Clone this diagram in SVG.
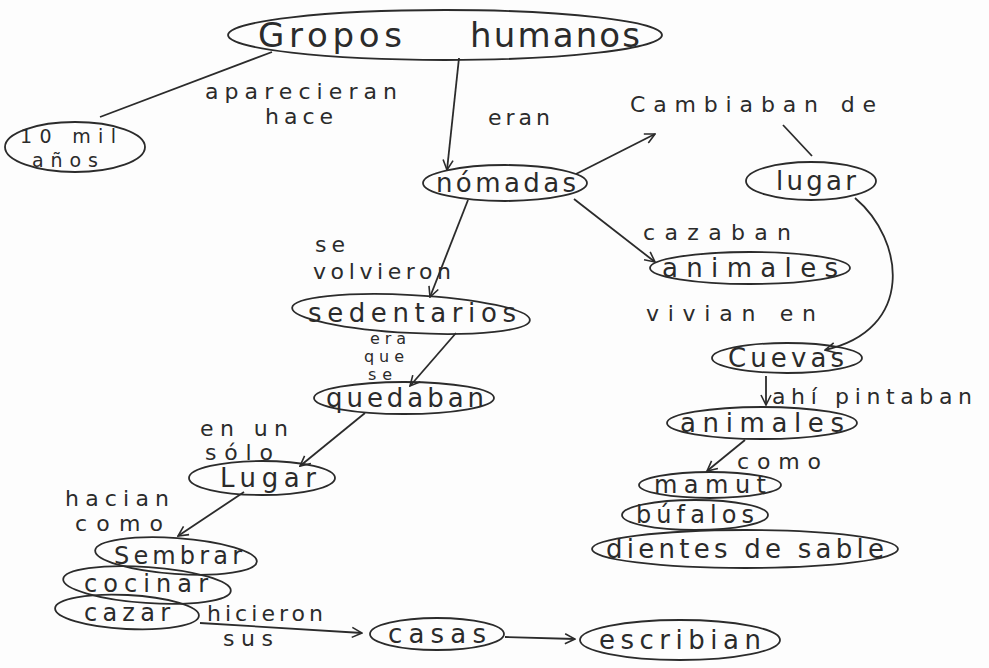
<svg xmlns="http://www.w3.org/2000/svg" width="989" height="668" viewBox="0 0 989 668">
<style>
.n{fill:none;stroke:#2b2b2b;stroke-width:1.8}
.c{fill:none;stroke:#2b2b2b;stroke-width:1.8}
text{font-family:"DejaVu Sans","Liberation Sans",sans-serif;fill:#2b2b2b}
.t{font-size:26px}
.u{font-size:24px}
.l{font-size:22px}
.s{font-size:16px}
</style>
<defs>
<marker id="a" viewBox="0 0 12 12" refX="11" refY="6" markerWidth="12" markerHeight="12" markerUnits="userSpaceOnUse" orient="auto">
<path d="M1,1 L11,6 L1,11" fill="none" stroke="#2b2b2b" stroke-width="1.6"/>
</marker>
</defs>
<rect width="989" height="668" fill="#fdfdfd"/>
<g id="connectors">
<line class="c" x1="272" y1="52" x2="100" y2="117"/>
<line class="c" x1="459" y1="58" x2="447" y2="170" marker-end="url(#a)"/>
<line class="c" x1="576" y1="174" x2="655" y2="134" marker-end="url(#a)"/>
<line class="c" x1="783" y1="125" x2="812" y2="156"/>
<line class="c" x1="574" y1="199" x2="655" y2="262" marker-end="url(#a)"/>
<path class="c" d="M855,198 C905,240 915,330 825,350" marker-end="url(#a)"/>
<line class="c" x1="766" y1="376" x2="766" y2="405" marker-end="url(#a)"/>
<line class="c" x1="745" y1="440" x2="707" y2="471" marker-end="url(#a)"/>
<line class="c" x1="468" y1="200" x2="430" y2="297" marker-end="url(#a)"/>
<line class="c" x1="456" y1="333" x2="410" y2="386" marker-end="url(#a)"/>
<line class="c" x1="365" y1="413" x2="300" y2="466" marker-end="url(#a)"/>
<line class="c" x1="244" y1="492" x2="178" y2="536" marker-end="url(#a)"/>
<line class="c" x1="200" y1="623" x2="362" y2="633" marker-end="url(#a)"/>
<line class="c" x1="505" y1="637" x2="575" y2="639" marker-end="url(#a)"/>
</g>
<g id="labels">
<text class="l" x="205" y="99" textLength="192" lengthAdjust="spacing">aparecieran</text>
<text class="l" x="265" y="124" textLength="68" lengthAdjust="spacing">hace</text>
<text class="l" x="488" y="125" textLength="62" lengthAdjust="spacing">eran</text>
<text class="l" x="630" y="112" textLength="246" lengthAdjust="spacing">Cambiaban de</text>
<text class="l" x="643" y="240" textLength="148" lengthAdjust="spacing">cazaban</text>
<text class="l" x="646" y="321" textLength="170" lengthAdjust="spacing">vivian en</text>
<text class="l" x="772" y="404" textLength="200" lengthAdjust="spacing">ahí pintaban</text>
<text class="l" x="737" y="469" textLength="84" lengthAdjust="spacing">como</text>
<text class="l" x="315" y="252" textLength="30" lengthAdjust="spacing">se</text>
<text class="l" x="313" y="279" textLength="138" lengthAdjust="spacing">volvieron</text>
<text class="s" x="370" y="344" textLength="36" lengthAdjust="spacing">era</text>
<text class="s" x="364" y="362" textLength="40" lengthAdjust="spacing">que</text>
<text class="s" x="368" y="380" textLength="24" lengthAdjust="spacing">se</text>
<text class="l" x="200" y="436" textLength="88" lengthAdjust="spacing">en un</text>
<text class="l" x="205" y="460" textLength="68" lengthAdjust="spacing">sólo</text>
<text class="l" x="65" y="506" textLength="104" lengthAdjust="spacing">hacian</text>
<text class="l" x="75" y="531" textLength="88" lengthAdjust="spacing">como</text>
<text class="l" x="207" y="621" textLength="116" lengthAdjust="spacing">hicieron</text>
<text class="l" x="223" y="646" textLength="50" lengthAdjust="spacing">sus</text>
</g>
<g id="n-gropos">
<ellipse class="n" cx="445" cy="35" rx="217" ry="25"/>
<text x="258" y="47" font-size="34" textLength="144" lengthAdjust="spacing">Gropos</text>
<text x="470" y="47" font-size="34" textLength="170" lengthAdjust="spacing">humanos</text>
</g>
<g id="n-10mil">
<ellipse class="n" cx="75" cy="147" rx="70" ry="25"/>
<text x="20" y="143" font-size="19" textLength="96" lengthAdjust="spacing">10 mil</text>
<text x="32" y="167" font-size="19" textLength="66" lengthAdjust="spacing">años</text>
</g>
<g id="n-nomadas">
<ellipse class="n" cx="505" cy="183" rx="82" ry="18"/>
<text class="t" x="436" y="192" textLength="140" lengthAdjust="spacing">nómadas</text>
</g>
<g id="n-lugar">
<ellipse class="n" cx="811" cy="181" rx="65" ry="19"/>
<text class="t" x="776" y="190" textLength="80" lengthAdjust="spacing">lugar</text>
</g>
<g id="n-animales1">
<ellipse class="n" cx="750" cy="268" rx="100" ry="16"/>
<text class="t" x="662" y="277" textLength="176" lengthAdjust="spacing">animales</text>
</g>
<g id="n-cuevas">
<ellipse class="n" cx="787" cy="358" rx="75" ry="15"/>
<text class="t" x="728" y="367" textLength="116" lengthAdjust="spacing">Cuevas</text>
</g>
<g id="n-animales2">
<ellipse class="n" cx="762" cy="423" rx="95" ry="16"/>
<text class="t" x="680" y="432" textLength="164" lengthAdjust="spacing">animales</text>
</g>
<g id="n-mamut">
<ellipse class="n" cx="710" cy="485" rx="71" ry="13"/>
<text class="u" x="654" y="493" textLength="112" lengthAdjust="spacing">mamut</text>
</g>
<g id="n-bufalos">
<ellipse class="n" cx="695" cy="515" rx="73" ry="15"/>
<text class="u" x="636" y="523" textLength="118" lengthAdjust="spacing">búfalos</text>
</g>
<g id="n-dientes">
<ellipse class="n" cx="745" cy="549" rx="153" ry="19"/>
<text class="t" x="606" y="558" textLength="278" lengthAdjust="spacing">dientes de sable</text>
</g>
<g id="n-sedentarios">
<ellipse class="n" cx="411" cy="314" rx="119" ry="19" transform="rotate(3 411 314)"/>
<text class="t" x="308" y="322" textLength="208" lengthAdjust="spacing">sedentarios</text>
</g>
<g id="n-quedaban">
<ellipse class="n" cx="404" cy="398" rx="90" ry="16"/>
<text class="t" x="326" y="407" textLength="158" lengthAdjust="spacing">quedaban</text>
</g>
<g id="n-lugar2">
<ellipse class="n" cx="262" cy="478" rx="73" ry="17"/>
<text class="t" x="220" y="487" textLength="96" lengthAdjust="spacing">Lugar</text>
</g>
<g id="n-sembrar">
<ellipse class="n" cx="176" cy="556" rx="81" ry="18" transform="rotate(4 176 556)"/>
<text class="u" x="114" y="564" textLength="128" lengthAdjust="spacing">Sembrar</text>
</g>
<g id="n-cocinar">
<ellipse class="n" cx="147" cy="585" rx="84" ry="18" transform="rotate(4 147 585)"/>
<text class="u" x="84" y="592" textLength="124" lengthAdjust="spacing">cocinar</text>
</g>
<g id="n-cazar">
<ellipse class="n" cx="127" cy="612" rx="72" ry="17" transform="rotate(3 127 612)"/>
<text class="u" x="84" y="621" textLength="86" lengthAdjust="spacing">cazar</text>
</g>
<g id="n-casas">
<ellipse class="n" cx="437" cy="634" rx="67" ry="16"/>
<text class="t" x="388" y="643" textLength="98" lengthAdjust="spacing">casas</text>
</g>
<g id="n-escribian">
<ellipse class="n" cx="680" cy="640" rx="100" ry="20"/>
<text class="t" x="599" y="649" textLength="162" lengthAdjust="spacing">escribian</text>
</g>
</svg>
